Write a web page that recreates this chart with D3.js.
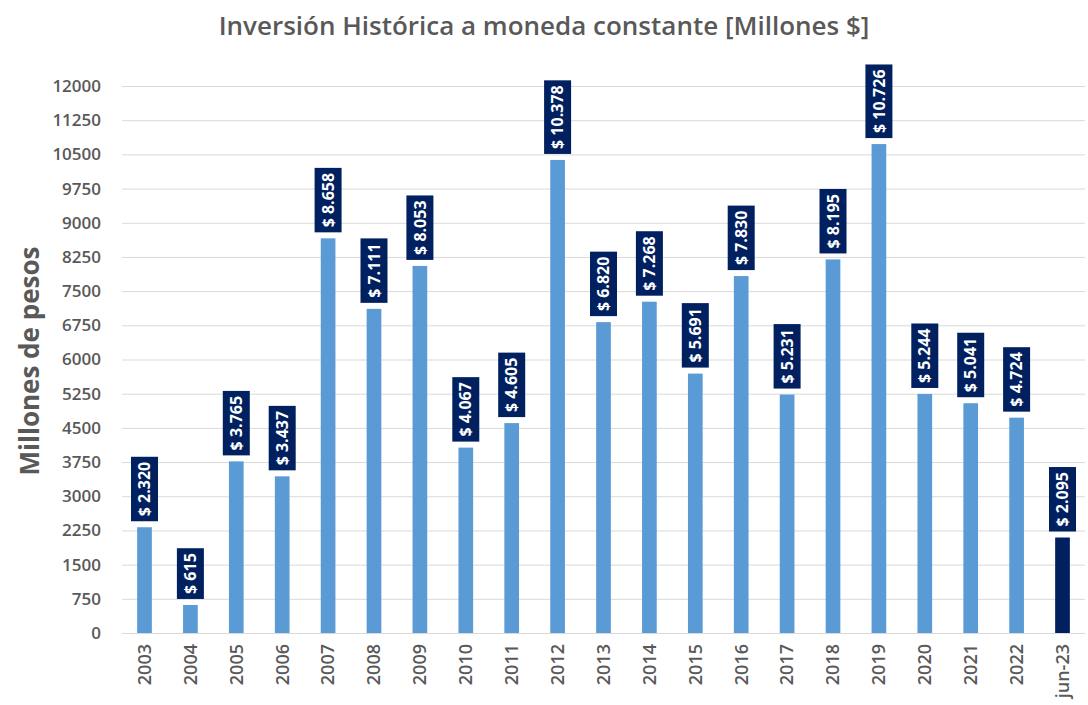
<!DOCTYPE html>
<html lang="es">
<head>
<meta charset="UTF-8">
<title>Inversión Histórica a moneda constante</title>
<script src="https://d3js.org/d3.v7.min.js"></script>
<style>
  body { margin: 0; background: #fff; }
  svg { display: block; font-family: "Open Sans", "Noto Sans", sans-serif; }
  .grid line { stroke: #d9d9d9; stroke-width: 1; }
  .grid path { display: none; }
</style>
</head>
<body>
<svg width="1088" height="705"></svg>
<script>
const years = ["2003","2004","2005","2006","2007","2008","2009","2010","2011","2012",
  "2013","2014","2015","2016","2017","2018","2019","2020","2021","2022","jun-23"];
const inversion = [2320, 615, 3765, 3437, 8658, 7111, 8053, 4067, 4605, 10378,
  6820, 7268, 5691, 7830, 5231, 8195, 10726, 5244, 5041, 4724, 2095];
const yTicks = d3.range(0, 12001, 750);

const svg = d3.select("svg");
const plot = { left: 122, right: 1085, bottom: 633, top: 86 };

const x = d3.scaleBand()
  .domain(years)
  .range([plot.left, plot.right])
  .paddingInner(0.68)
  .paddingOuter(0.33);

const y = d3.scaleLinear()
  .domain([0, 12000])
  .range([plot.bottom, plot.top]);

// gridlines
svg.append("g")
  .attr("class", "grid")
  .attr("transform", `translate(${plot.left},0)`)
  .call(d3.axisLeft(y).tickValues(yTicks).tickSize(-(plot.right - plot.left)).tickFormat(""));

// y tick labels
svg.append("g")
  .selectAll("text")
  .data(yTicks)
  .join("text")
  .attr("x", 101)
  .attr("y", d => y(d))
  .attr("dy", "0.35em")
  .attr("text-anchor", "end")
  .attr("fill", "#595959")
  .style("font-size", "17px")
  .style("font-weight", "600")
  .text(d => d);

// bars
svg.append("g")
  .selectAll("rect")
  .data(inversion)
  .join("rect")
  .attr("x", (d, i) => x(years[i]))
  .attr("y", d => y(d))
  .attr("width", x.bandwidth())
  .attr("height", d => y(0) - y(d))
  .attr("fill", (d, i) => years[i] === "jun-23" ? "#002060" : "#5b9bd5");

// value labels
const fmt = v => "$ " + d3.format(",")(v).replace(/,/g, ".");
const labels = svg.append("g")
  .selectAll("g")
  .data(inversion)
  .join("g")
  .attr("transform", (d, i) => `translate(${x(years[i]) + x.bandwidth() / 2},${y(d) - 6})`);

labels.each(function (d) {
  const g = d3.select(this);
  const t = g.append("text")
    .attr("transform", "rotate(-90)")
    .attr("fill", "#ffffff")
    .attr("text-anchor", "middle")
    .attr("dy", "0.35em")
    .style("font-size", "16px")
    .style("font-weight", "700")
    .text(fmt(d));
  const len = t.node().getComputedTextLength();
  const h = len + 10;
  t.attr("x", h / 2);
  g.insert("rect", "text")
    .attr("x", -13.5)
    .attr("y", -h)
    .attr("width", 27)
    .attr("height", h)
    .attr("fill", "#002060");
});

// x labels
svg.append("g")
  .selectAll("text")
  .data(years)
  .join("text")
  .attr("transform", d => `translate(${x(d) + x.bandwidth() / 2},644) rotate(-90)`)
  .attr("text-anchor", "end")
  .attr("dy", "0.35em")
  .attr("fill", "#595959")
  .style("font-size", "18px")
  .style("font-weight", "600")
  .text(d => d);

// axis title
svg.append("text")
  .attr("transform", "translate(30,361) rotate(-90)")
  .attr("text-anchor", "middle")
  .attr("dy", "0.35em")
  .attr("fill", "#595959")
  .style("font-size", "26px")
  .style("font-weight", "700")
  .text("Millones de pesos");

// title
svg.append("text")
  .attr("x", 544)
  .attr("y", 26)
  .attr("text-anchor", "middle")
  .attr("dy", "0.35em")
  .attr("fill", "#595959")
  .style("font-size", "26px")
  .style("font-weight", "600")
  .text("Inversión Histórica a moneda constante [Millones $]");
</script>
</body>
</html>
